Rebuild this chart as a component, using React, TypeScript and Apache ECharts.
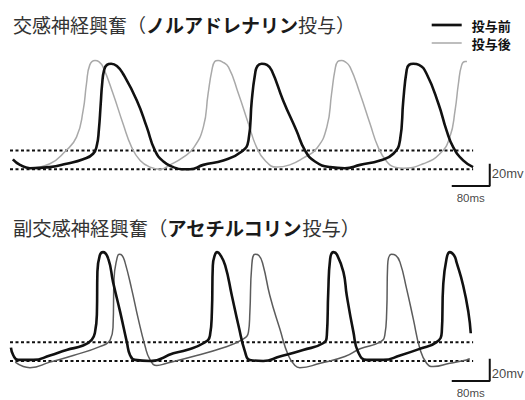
import React, { useEffect, useRef } from "react";
import * as echarts from "echarts";

// ---- data (time in ms, membrane potential in mV) ----
const legendNames = ["投与前", "投与後"];
const panelTitles = [
  ["交感神経興奮（", "ノルアドレナリン", "投与）"],
  ["副交感神経興奮（", "アセチルコリン", "投与）"],
];
const thresholdLevels = [-60, -43];
const traceSpan = [0, 975];
const scaleBarMs = 80;
const scaleBarMv = 20;
const scaleBarLabels = ["80ms", "20mv"];

const sympBefore = [
  [6, -51], [21, -56], [42, -59], [84, -58], [119, -55], [154, -51], [175, -46], [183, -38], [187, -25],
  [191, -1], [194, 17], [198, 29], [204, 34], [213, 35], [225, 33], [238, 26], [267, 2], [288, -22],
  [305, -43], [323, -53], [344, -58], [362, -60], [379, -60], [407, -56], [449, -52], [488, -44],
  [502, -34], [509, 2], [516, 26], [521, 33], [530, 35], [541, 34], [551, 29], [575, 2], [603, -25],
  [621, -43], [642, -53], [674, -58], [705, -59], [737, -56], [779, -52], [807, -46], [821, -34],
  [828, 2], [835, 29], [840, 34], [849, 35], [861, 34], [877, 26], [902, -1], [919, -25], [933, -40],
  [954, -52], [975, -58],
];
const sympAfter = [
  [42, -59], [84, -55], [116, -44], [140, -31], [154, -7], [161, 17], [168, 34], [179, 38], [187, 37],
  [196, 32], [217, 8], [238, -19], [256, -40], [274, -52], [295, -58], [316, -60], [337, -56], [365, -49],
  [386, -41], [407, -22], [417, 8], [425, 29], [431, 37], [438, 38], [446, 37], [460, 32], [481, 8],
  [502, -19], [519, -40], [537, -52], [561, -58], [589, -56], [617, -50], [646, -41], [667, -22], [677, 8],
  [684, 29], [690, 37], [698, 38], [705, 37], [716, 32], [737, 8], [758, -19], [775, -40], [793, -53],
  [810, -58], [828, -59], [870, -55], [905, -46], [926, -31], [937, -7], [944, 17], [951, 34], [958, 37],
  [962, 37],
];
const paraBefore = [
  [2, -48], [7, -55], [17, -59], [49, -59], [84, -55], [119, -50], [154, -46], [172, -41], [179, -34],
  [183, -16], [184, 20], [189, 35], [196, 38], [207, 32], [217, 11], [232, -16], [246, -43], [253, -55],
  [263, -59], [295, -60], [344, -53], [372, -50], [407, -44], [421, -37], [425, -16], [427, 26], [431, 35],
  [436, 38], [442, 36], [453, 26], [467, -1], [481, -28], [495, -52], [505, -59], [533, -60], [568, -56],
  [617, -50], [659, -44], [667, -37], [670, 2], [674, 32], [681, 38], [688, 36], [702, 20], [709, -1],
  [723, -34], [733, -52], [751, -59], [786, -59], [821, -55], [863, -49], [898, -43], [909, -34], [912, 8],
  [919, 32], [926, 38], [935, 35], [940, 29], [954, 8], [965, -16], [970, -35],
];
const paraAfter = [
  [11, -61], [28, -65], [42, -66], [84, -61], [133, -55], [189, -47], [211, -41], [217, -28], [219, 14],
  [225, 32], [230, 36], [236, 35], [242, 29], [256, 5], [270, -22], [284, -46], [295, -59], [309, -64],
  [330, -62], [393, -55], [442, -49], [488, -41], [502, -34], [505, -16], [509, 26], [516, 36], [524, 35],
  [533, 26], [547, -1], [568, -31], [586, -55], [600, -64], [610, -66], [653, -62], [705, -56], [737, -49],
  [779, -43], [789, -37], [793, -16], [795, 26], [803, 36], [812, 35], [821, 29], [835, 5], [849, -22],
  [863, -49], [877, -62], [891, -65], [926, -62], [961, -59], [968, -58],
];

const FONT_CJK = "'Noto Sans CJK JP', 'Noto Sans', sans-serif";
const FONT_LATIN = "'Liberation Sans', Arial, sans-serif";

const panels = [
  { before: sympBefore, after: sympAfter, afterColor: "#a9a9a9", gridTop: 47.1, titleTop: 14.5, titleSize: 19, bar: [930, -75], mvLabel: -64 },
  { before: paraBefore, after: paraAfter, afterColor: "#5c5c5c", gridTop: 238.8, titleTop: 218, titleSize: 19.3, bar: [930, -78], mvLabel: -71 },
];

function buildOption() {
  const series: any[] = [];
  panels.forEach((p, i) => {
    thresholdLevels.forEach((lvl) => {
      series.push({
        type: "line", xAxisIndex: i, yAxisIndex: i, silent: true, symbol: "none", z: 1,
        data: [[traceSpan[0], lvl], [traceSpan[1], lvl]],
        lineStyle: { color: "#111", width: 2, type: [3, 2.5] },
      });
    });
    series.push({
      name: legendNames[1], type: "line", xAxisIndex: i, yAxisIndex: i, symbol: "none", z: 2,
      smooth: 0.5, data: p.after, color: p.afterColor,
      lineStyle: { color: p.afterColor, width: 1.5 },
    });
    series.push({
      name: legendNames[0], type: "line", xAxisIndex: i, yAxisIndex: i, symbol: "none", z: 3,
      smooth: 0.5, data: p.before, color: "#111",
      lineStyle: { color: "#111", width: 2.6 },
    });
    const [x0, y0] = p.bar;
    series.push({
      type: "line", xAxisIndex: i, yAxisIndex: i, silent: true, symbol: "none", z: 3,
      data: [[x0, y0], [x0 + scaleBarMs, y0], [x0 + scaleBarMs, y0 + scaleBarMv]],
      lineStyle: { color: "#111", width: 2 },
    });
    series.push({
      type: "scatter", xAxisIndex: i, yAxisIndex: i, silent: true, symbolSize: 0, z: 4,
      data: [
        { value: [x0 + scaleBarMs / 2, y0], label: { show: true, formatter: scaleBarLabels[0], position: "bottom", distance: 6, fontSize: 11.5 } },
        { value: [x0 + scaleBarMs, p.mvLabel], label: { show: true, formatter: scaleBarLabels[1], position: "right", distance: 2, fontSize: 13 } },
      ],
      label: { color: "#111", fontFamily: FONT_LATIN },
    });
  });

  const richStyle = (bold: boolean, size: number) => ({
    fontSize: size, lineHeight: 19, fontFamily: FONT_CJK,
    fontWeight: bold ? "bold" : "normal", color: bold ? "#1a1a1a" : "#333",
  });

  return {
    animation: false,
    backgroundColor: "#fff",
    title: panelTitles.map((t, i) => ({
      text: `{n|${t[0]}}{b|${t[1]}}{n|${t[2]}}`,
      left: 13, top: panels[i].titleTop, padding: 0,
      textStyle: { rich: { n: richStyle(false, panels[i].titleSize), b: richStyle(true, panels[i].titleSize) } },
    })),
    legend: {
      data: [
        { name: legendNames[0], icon: "path://M0,0H30V2.7H0Z" },
        { name: legendNames[1], icon: "path://M0,0H30V1.5H0Z" },
      ],
      orient: "vertical", left: 431.7, top: 18, padding: 0,
      itemWidth: 30, itemHeight: 14, itemGap: 4, selectedMode: false,
      textStyle: { fontFamily: FONT_CJK, fontSize: 13, fontWeight: "bold", color: "#111", lineHeight: 14, padding: [0, 0, 0, 5] },
    },
    grid: panels.map((p) => ({ left: 10, width: 484.5, top: p.gridTop, height: 144.44, containLabel: false })),
    xAxis: panels.map((_, i) => ({ type: "value", gridIndex: i, min: 0, max: 1020, show: false })),
    yAxis: panels.map((_, i) => ({ type: "value", gridIndex: i, min: -80, max: 50, show: false })),
    series,
  };
}

export default function App() {
  const ref = useRef<HTMLDivElement>(null);
  useEffect(() => {
    document.body.style.margin = "0";
    const chart = echarts.init(ref.current!, null, { renderer: "svg" });
    chart.setOption(buildOption() as any);
    return () => chart.dispose();
  }, []);
  return <div ref={ref} style={{ position: "fixed", left: 0, top: 0, width: 525, height: 400, background: "#fff" }} />;
}
